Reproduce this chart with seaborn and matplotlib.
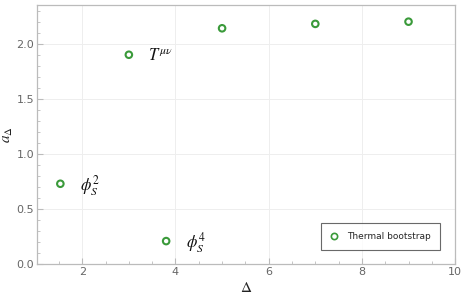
import matplotlib
matplotlib.use("Agg")
import matplotlib.pyplot as plt
from matplotlib.ticker import MultipleLocator
import seaborn as sns
import pandas as pd

# values
delta = [1.53, 3.0, 3.8, 5.0, 7.0, 9.0]
a_delta = [0.73, 1.90, 0.21, 2.14, 2.18, 2.20]
labels = {0: r"$\phi_S^2$", 1: r"$T^{\mu\nu}$", 2: r"$\phi_S^4$"}

df = pd.DataFrame({"delta": delta, "a": a_delta})

sns.set_style("white")
plt.rcParams["font.family"] = ["DejaVu Sans"]
plt.rcParams["mathtext.fontset"] = "stix"

green = "#3a9a3a"

fig, ax = plt.subplots(figsize=(4.63, 3.02), dpi=100)
sns.scatterplot(data=df, x="delta", y="a", ax=ax, marker="o", s=22,
                linewidth=1.5, legend=False)
for coll in ax.collections:
    coll.set_facecolor("none")
    coll.set_edgecolor(green)

# legend proxy
ax.plot([], [], "o", mfc="none", mec=green, mew=1.2, ms=4.5, ls="none",
        label="Thermal bootstrap")
leg = ax.legend(loc="lower right", bbox_to_anchor=(0.97, 0.045), frameon=True,
                fancybox=False, fontsize=6.5, handlelength=1.0,
                handletextpad=0.9, borderpad=1.0, borderaxespad=0.3)
leg.get_frame().set_edgecolor("#444444")
leg.get_frame().set_linewidth(0.8)

for i, txt in labels.items():
    ax.annotate(txt, (delta[i], a_delta[i]), xytext=(14, -1),
                textcoords="offset points", fontsize=12, va="center", ha="left",
                color="#111111")

ax.set_xlim(1.03, 10)
ax.set_ylim(0, 2.35)
ax.xaxis.set_major_locator(MultipleLocator(2))
ax.xaxis.set_minor_locator(MultipleLocator(0.5))
ax.yaxis.set_major_locator(MultipleLocator(0.5))
ax.yaxis.set_minor_locator(MultipleLocator(0.1))
ax.grid(True, which="major", color="#eeeeee", linewidth=0.7)
ax.set_axisbelow(True)

for sp in ax.spines.values():
    sp.set_color("#bbbbbb")
    sp.set_linewidth(0.9)
ax.tick_params(which="major", length=4, color="#bbbbbb", labelcolor="#666666",
               labelsize=8, direction="in", bottom=True, left=True, pad=2)
ax.tick_params(which="minor", length=2, color="#bbbbbb", direction="in",
               bottom=True, left=True)

ax.set_xlabel(r"$\Delta$", fontsize=11, color="#222222", labelpad=2)
ax.set_ylabel(r"$a_\Delta$", fontsize=11, color="#222222", labelpad=1)

fig.subplots_adjust(left=0.08, right=0.983, top=0.983, bottom=0.125)
fig.savefig("out.png", dpi=100)
